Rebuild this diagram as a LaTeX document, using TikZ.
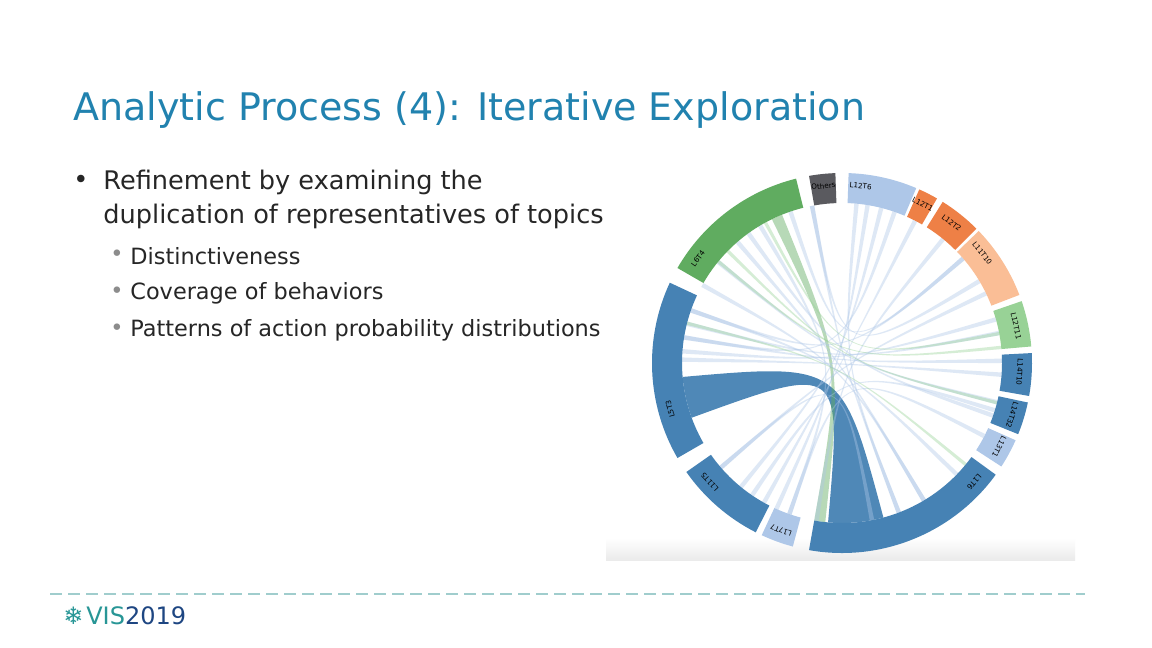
\documentclass[tikz,border=0pt]{standalone}
\usepackage{fontspec}
\setmainfont{DejaVu Sans}
\newfontfamily\symfont{DejaVu Sans}
\usetikzlibrary{calc,positioning}
\definecolor{titleblue}{RGB}{33,130,175}
\definecolor{cblue}{RGB}{70,130,180}
\definecolor{clight}{RGB}{174,199,232}
\definecolor{cgreen}{RGB}{96,172,96}
\definecolor{corange}{RGB}{238,128,70}
\definecolor{cpeach}{RGB}{250,190,150}
\definecolor{clgreen}{RGB}{152,210,150}
\definecolor{cgray}{RGB}{90,90,95}
\definecolor{dashteal}{RGB}{160,205,205}
\definecolor{visteal}{RGB}{40,150,150}
\definecolor{visblue}{RGB}{30,70,130}
\newcommand{\ribbon}[6]{%
  \fill[#5,opacity=#6] (#1:160) arc[start angle=#1,end angle=#2,radius=160]
    .. controls (0,0) .. (#3:160) arc[start angle=#3,end angle=#4,radius=160]
    .. controls (0,0) .. (#1:160);}

\begin{document}
\begin{tikzpicture}[x=0.5pt,y=-0.5pt,
    every node/.style={inner sep=0pt,anchor=west},
    bodytext/.style={font=\fontsize{12.8}{17}\selectfont,text=black!85},
    subtext/.style={font=\fontsize{11.2}{14}\selectfont,text=black!85},
    seglabel/.style={font=\fontsize{3.6}{4}\selectfont,anchor=center}]
  \useasboundingbox[fill=white] (0,0) rectangle (1152,648);

  % title and bullets
  \node (title) at (73,110) {\color{titleblue}\fontsize{19}{23}\selectfont Analytic Process (4): Iterative Exploration};
  \node[bodytext] (dot) at (73,182) {\textbullet};
  \node[bodytext,align=left,anchor=north west] (main) at (103,170) {Refinement by examining the\\duplication of representatives of topics};
  \node[subtext] (s1) at (130,256) {Distinctiveness};
  \node[subtext] (s2) at (130,293) {Coverage of behaviors};
  \node[subtext] (s3) at (130,330) {Patterns of action probability distributions};
  \foreach \y in {256,293,330}
    \node[subtext,text=black!45] at (110,\y) {\textbullet};

  % chord picture
  \fill[white] (606,165) rectangle (1075,560);
  \shade[top color=white,bottom color=black!8] (606,538) rectangle (1075,560);
  \begin{scope}[shift={(842,363)},yscale=-1]
    % ribbons
    \ribbon{-95}{-75}{185}{200}{cblue}{0.95}
    \ribbon{112}{116}{-100}{-96}{cgreen}{0.45}
    \foreach \a/\c in {120/-110,125/-20,130/-60,80/-115,75/-130,70/170,84/-70,
        62/-120,50/-100,40/160,30/100,25/-140,15/175,10/165,0/170,-5/178,
        -15/140,-18/-125,-28/-110,-45/160,-60/150,-80/-140,100/-70,108/40}
      \ribbon{\a}{\a+1.6}{\c}{\c+1.6}{clight}{0.4};
    \foreach \a/\c in {118/10,135/-15,-40/165,5/140}
      \ribbon{\a}{\a+1.2}{\c}{\c+1.2}{clgreen}{0.4};
    % segments
    \foreach \a/\b/\c in {92/100/cgray,67/88/clight,60/66/corange,
        45/58/corange,21/44/cpeach,5/19/clgreen,-10/3/cblue,
        -22/-12/cblue,-33/-24/clight,-100/-36/cblue,
        -115/-105/clight,-145/-117/cblue,155/210/cblue,104/150/cgreen}
    {
      \fill[\c] (\a:160) arc[start angle=\a,end angle=\b,radius=160]
        -- (\b:190) arc[start angle=\b,end angle=\a,radius=190] -- cycle;
    }
    \foreach \m/\l in {96/Others,84/L12T6,63/L12T1,52/L12T2,38/L11T10,12/L12T11,
        -3/L14T10,-17/L14T32,-28/L13T1,-42/L1T6,-110/L17T7,-138/L11T5,-165/L5T3,144/L6T4}
      \node[seglabel,rotate=\m-90] at (\m:178) {\l};
  \end{scope}

  % footer
  \draw[dashteal,line width=1.2pt,dash pattern=on 6pt off 3pt] (50,594) -- (1085,594);
  \node (flake) at (63,616) {\color{visteal}\symfont\fontsize{12}{14}\selectfont ❄};
  \node[right=1pt of flake] (vis) {\fontsize{12}{14}\selectfont\color{visteal}VIS\color{visblue}2019};
\end{tikzpicture}
\end{document}
